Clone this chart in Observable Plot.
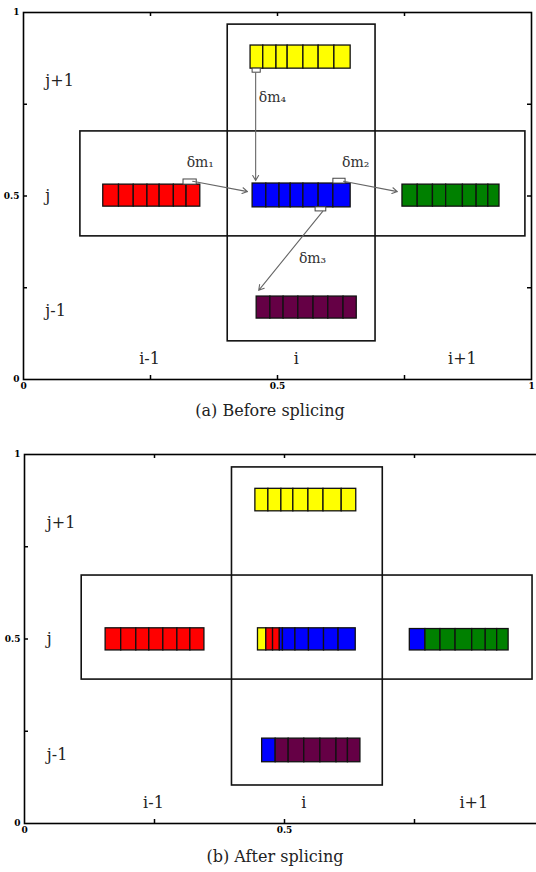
<!DOCTYPE html>
<html><head><meta charset="utf-8">
<script src="https://cdn.jsdelivr.net/npm/d3@7"></script>
<script src="https://cdn.jsdelivr.net/npm/@observablehq/plot@0.6"></script>
<style>
html,body{margin:0;padding:0;background:#fff;overflow:hidden;width:536px;height:872px}
#wrap{position:relative;width:536px;height:872px;overflow:hidden}
#wrap svg.panel{position:absolute;left:0;max-width:none !important;height:400px !important}
.cap{position:absolute;font-family:"DejaVu Serif",serif;font-size:16px;color:#222;white-space:nowrap;transform:translateX(-50%);line-height:20px}
</style></head><body><div id="wrap"></div>
<script>
// ---------- data ----------
const ticks = [0.25, 0.5, 0.75];
const tickLabels = [0, 0.5, 1];
const tickLabelsXB = [0, 0.5];   // panel (b): the "1" lies beyond the picture's edge
const captions = ["(a) Before splicing", "(b) After splicing"];

// cross of grid cells (row j box, column i box)
const boxX1A = [0.112, 0.402], boxX2A = [0.988, 0.693], boxY1A = [0.390, 0.104], boxY2A = [0.676, 0.967];
const boxX1B = [0.110, 0.399], boxX2B = [0.977, 0.689], boxY1B = [0.390, 0.103], boxY2B = [0.672, 0.965];

// row / column labels
const rowLabels = ["j+1", "j", "j-1"];
const rowY = [0.815, 0.500, 0.187];
const rowX = 0.043;
const colLabels = ["i-1", "i", "i+1"];
const colX = [0.248, 0.537, 0.864];
const colY = 0.055;

// particle strips: cell edges, colours (R,Y,B,G,P), vertical extent
const barEdgesA = [
  [0.157, 0.188, 0.217, 0.244, 0.268, 0.296, 0.321, 0.348],
  [0.447, 0.472, 0.498, 0.520, 0.551, 0.581, 0.612, 0.644],
  [0.451, 0.478, 0.504, 0.526, 0.551, 0.581, 0.610, 0.644],
  [0.746, 0.776, 0.806, 0.832, 0.865, 0.892, 0.915, 0.937],
  [0.459, 0.486, 0.512, 0.541, 0.571, 0.600, 0.630, 0.656]
];
const barColorsA = ["RRRRRRR", "YYYYYYY", "BBBBBBB", "GGGGGGG", "PPPPPPP"];
const barLowA = [0.471, 0.847, 0.469, 0.471, 0.166];
const barHighA = [0.531, 0.910, 0.534, 0.531, 0.226];

const barEdgesB = [
  [0.156, 0.186, 0.215, 0.240, 0.267, 0.294, 0.319, 0.346],
  [0.444, 0.469, 0.494, 0.517, 0.546, 0.575, 0.610, 0.638],
  [0.449, 0.465, 0.478, 0.491, 0.497, 0.521, 0.547, 0.576, 0.604, 0.637],
  [0.741, 0.771, 0.800, 0.829, 0.861, 0.887, 0.909, 0.931],
  [0.457, 0.483, 0.508, 0.538, 0.569, 0.600, 0.622, 0.646]
];
const barColorsB = ["RRRRRRR", "YYYYYYY", "YRRBBBBBB", "BGGGGGG", "BPPPPPP"];
const barLowB = [0.469, 0.846, 0.469, 0.469, 0.166];
const barHighB = [0.529, 0.907, 0.529, 0.527, 0.230];

const palette = {R: "#ff0000", Y: "#ffff00", B: "#0000ff", G: "#008000", P: "#650045"};

// mass transfer arrows (panel a)
const arrowNames = ["δm₁", "δm₂", "δm₃", "δm₄"];
const arrowX1 = [0.333, 0.630, 0.589, 0.457];
const arrowY1 = [0.540, 0.540, 0.458, 0.836];
const arrowX2 = [0.441, 0.736, 0.463, 0.457];
const arrowY2 = [0.512, 0.512, 0.243, 0.542];
const arrowLabelX = [0.348, 0.654, 0.569, 0.490];
const arrowLabelY = [0.590, 0.590, 0.330, 0.768];
// small tabs marking the transferred parts
const tabX1 = [0.315, 0.610, 0.575, 0.451];
const tabX2 = [0.341, 0.634, 0.596, 0.467];
const tabY1 = [0.531, 0.534, 0.458, 0.836];
const tabY2 = [0.545, 0.547, 0.469, 0.847];

// ---------- build ----------
function cellsOf(edges, colors, lows, highs) {
  const out = [];
  edges.forEach((e, b) => {
    for (let k = 0; k < e.length - 1; k++) {
      out.push({x1: e[k], x2: e[k + 1], y1: lows[b], y2: highs[b], fill: palette[colors[b][k]]});
    }
  });
  return out;
}

const serif = "DejaVu Serif";

function panel(cfg) {
  const plotW = cfg.width - cfg.ml - cfg.mr;
  const plotH = cfg.height - cfg.mt - cfg.mb;
  const cells = cellsOf(cfg.edges, cfg.colors, cfg.lows, cfg.highs);
  const boxIdx = [0, 1];
  const marks = [
    Plot.frame({stroke: "black", strokeWidth: 1.6}),
    Plot.tickX(ticks, {x: d => d, insetBottom: plotH - 4, stroke: "black", strokeWidth: 1.5}),
    Plot.tickX(ticks, {x: d => d, insetTop: plotH - 4, stroke: "black", strokeWidth: 1.5}),
    Plot.tickY(ticks, {y: d => d, insetRight: plotW - 4, stroke: "black", strokeWidth: 1.5}),
    Plot.tickY(ticks, {y: d => d, insetLeft: plotW - 4, stroke: "black", strokeWidth: 1.5}),
    Plot.axisX({ticks: cfg.xLabels, tickSize: 0, tickPadding: 3, fontSize: 9, fontFamily: serif, fontWeight: "bold", label: null, tickFormat: d => String(d)}),
    Plot.axisY({ticks: tickLabels, tickSize: 0, tickPadding: 4, fontSize: 9, fontFamily: serif, fontWeight: "bold", label: null, tickFormat: d => String(d)}),
    Plot.rect(boxIdx, {x1: i => cfg.bx1[i], x2: i => cfg.bx2[i], y1: i => cfg.by1[i], y2: i => cfg.by2[i], fill: "none", stroke: "#111", strokeWidth: 1.6}),
    Plot.rect(cells, {x1: "x1", x2: "x2", y1: "y1", y2: "y2", fill: d => d.fill, stroke: "#111", strokeWidth: 1.3}),
    Plot.text(rowLabels, {x: () => rowX, y: (d, i) => rowY[i], text: d => d, textAnchor: "start", fontSize: 16, fontFamily: serif, fill: "#222"}),
    Plot.text(colLabels, {x: (d, i) => colX[i], y: () => colY, text: d => d, fontSize: 16, fontFamily: serif, fill: "#222"})
  ];
  if (cfg.arrows) {
    const idx = [0, 1, 2, 3];
    marks.push(
      Plot.rect(idx, {x1: i => tabX1[i], x2: i => tabX2[i], y1: i => tabY1[i], y2: i => tabY2[i], fill: "white", stroke: "#444", strokeWidth: 1}),
      Plot.arrow(idx, {x1: i => arrowX1[i], y1: i => arrowY1[i], x2: i => arrowX2[i], y2: i => arrowY2[i], stroke: "#666", strokeWidth: 1.1, headLength: 8}),
      Plot.text(idx, {x: i => arrowLabelX[i], y: i => arrowLabelY[i], text: i => arrowNames[i], fontSize: 14, fontFamily: serif, fill: "#333"})
    );
  }
  return Plot.plot({
    width: cfg.width, height: cfg.height,
    marginLeft: cfg.ml, marginRight: cfg.mr, marginTop: cfg.mt, marginBottom: cfg.mb,
    x: {domain: [0, 1]}, y: {domain: [0, 1]},
    style: {background: "white", color: "black", overflow: "visible"},
    marks
  });
}

const wrap = document.getElementById("wrap");
const a = panel({width: 536, height: 400, ml: 23, mr: 5, mt: 12, mb: 21, xLabels: tickLabels,
  bx1: boxX1A, bx2: boxX2A, by1: boxY1A, by2: boxY2A,
  edges: barEdgesA, colors: barColorsA, lows: barLowA, highs: barHighA, arrows: true});
a.classList.add("panel"); a.style.top = "0px";
wrap.appendChild(a);

const b = panel({width: 550, height: 400, ml: 24, mr: 6, mt: 14, mb: 17, xLabels: tickLabelsXB,
  bx1: boxX1B, bx2: boxX2B, by1: boxY1B, by2: boxY2B,
  edges: barEdgesB, colors: barColorsB, lows: barLowB, highs: barHighB, arrows: false});
b.classList.add("panel"); b.style.top = "440px";
wrap.appendChild(b);

const capPos = [[270, 401], [275, 847]];
captions.forEach((t, i) => {
  const d = document.createElement("div");
  d.className = "cap";
  d.textContent = t;
  d.style.left = capPos[i][0] + "px";
  d.style.top = capPos[i][1] + "px";
  wrap.appendChild(d);
});
</script></body></html>
